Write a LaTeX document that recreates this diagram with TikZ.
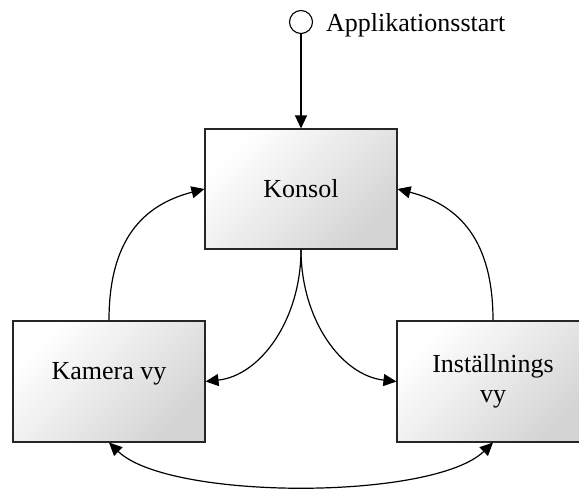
\documentclass[tikz,border=0pt]{standalone}
\usepackage{fontspec}
\setmainfont{Liberation Serif}
\usetikzlibrary{arrows.meta}
\begin{document}
\begin{tikzpicture}[x=1pt,y=1pt,
 box/.style={draw=black!85, line width=1.1pt, minimum width=192pt, minimum height=120pt, inner sep=0pt,
   top color=white, bottom color=black!17, shading angle=45,
   font=\fontsize{26}{30}\selectfont, align=center},
 tip/.style={Triangle[length=13pt,width=12pt]},
 conn/.style={line width=1.2pt, -{Triangle[length=13pt,width=12pt]}},
]
\useasboundingbox (0,0) rectangle (579,488);
\node[box] (konsol) at (301,299) {Konsol};
\node[box, minimum height=121pt, text depth=22pt] (kamera) at (109,106.5) {Kamera vy};
\node[box, minimum height=121pt] (inst) at (493,106.5) {Inställnings\\vy};
\node[circle, draw, line width=1.1pt, minimum size=23pt, inner sep=0pt] (start) at (301,466) {};
\node[anchor=base west, inner sep=0pt, font=\fontsize{26}{30}\selectfont] (lbl) at (326,456) {Applikationsstart};

\draw[conn] (start) -- (konsol);
\draw[conn] (kamera.north) .. controls +(0,80) and +(-62,-16) .. (konsol.west);
\draw[conn] (inst.north) .. controls +(0,80) and +(62,-16) .. (konsol.east);
\draw[conn] (konsol.south) .. controls +(0,-70) and +(55,6) .. (kamera.east);
\draw[conn] (konsol.south) .. controls +(0,-70) and +(-55,6) .. (inst.west);
\draw[line width=1.2pt, {Triangle[length=13pt,width=12pt]}-{Triangle[length=13pt,width=12pt]}]
  (kamera.south) .. controls +(60,-58) and +(-60,-58) .. (inst.south);
\end{tikzpicture}
\end{document}
